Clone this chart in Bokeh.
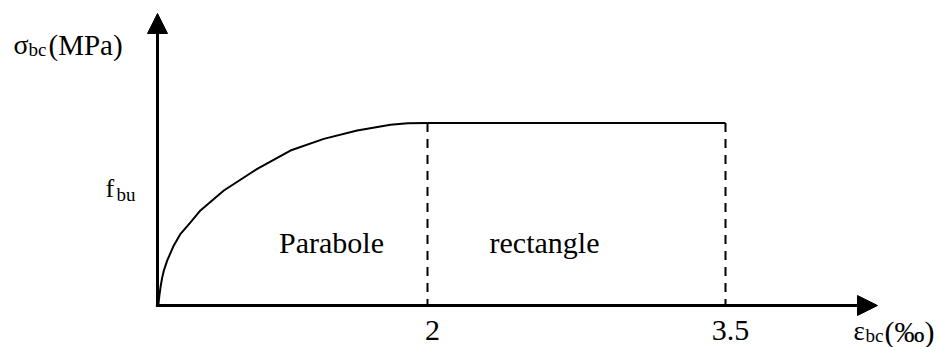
from bokeh.plotting import figure
from bokeh.models import Range1d, Label, Arrow, NormalHead, ColumnDataSource
from bokeh.embed import file_html
from bokeh.resources import INLINE

# ---------------- data (strain in per mille, stress relative to f_bu) -------------
eps_ticks = [2.0, 3.5]
eps_tick_labels = ["2", "3.5"]

parabola_eps = [0.645, 0.650, 0.656, 0.664, 0.673, 0.690, 0.723, 0.757, 0.807,
                0.857, 0.975, 1.143, 1.310, 1.478, 1.646, 1.814, 1.900, 2.0]
parabola_sig = [0.0, 0.050, 0.100, 0.150, 0.192, 0.247, 0.329, 0.393, 0.456,
                0.521, 0.630, 0.749, 0.849, 0.913, 0.959, 0.990, 0.998, 1.0]

plateau_eps = [2.0, 3.5]
plateau_sig = [1.0, 1.0]

region_names = ["Parabole", "rectangle"]

y_axis_title = ["σ", "bc", "(MPa)"]
x_axis_title = ["ε", "bc", "(‰)"]
fbu_label = ["f", "bu"]

# ---------------- layout constants ----------------
EPS0 = 0.641          # axis corner
EPS_END = 4.265       # tip of x arrow
SIG_END = 1.600       # tip of y arrow
FONT = "Liberation Serif"
TXT_UP = 10           # baseline correction for svg text, px

p = figure(width=940, height=347, output_backend="svg", toolbar_location=None,
           x_range=Range1d(-0.1493, 4.5822), y_range=Range1d(-0.2301, 1.6712),
           x_axis_type=None, y_axis_type=None,
           min_border=0, min_border_left=0, min_border_right=0,
           min_border_top=0, min_border_bottom=0,
           outline_line_color=None, background_fill_color="white",
           border_fill_color="white")
p.grid.visible = False

# axes with arrow heads
p.add_layout(Arrow(end=NormalHead(size=20, fill_color="black", line_color="black", line_width=1),
                   x_start=EPS0 - 0.008, y_start=0, x_end=EPS_END, y_end=0,
                   line_width=3, line_color="black"))
p.add_layout(Arrow(end=NormalHead(size=20, fill_color="black", line_color="black", line_width=1),
                   x_start=EPS0, y_start=-0.008, x_end=EPS0, y_end=SIG_END,
                   line_width=3, line_color="black"))

# parabola
p.line(parabola_eps, parabola_sig, line_width=2, line_color="black")
# rectangle plateau
p.line(plateau_eps, plateau_sig, line_width=2, line_color="black")

# dashed verticals at the ticks
for e, s in zip(plateau_eps, plateau_sig):
    p.line([e, e], [s, 0], line_width=2, line_color="black", line_dash="9 7")

# tick labels
src = ColumnDataSource(dict(x=eps_ticks, y=[0, 0], t=eps_tick_labels))
p.text(x="x", y="y", text="t", source=src, text_font={"value": FONT},
       text_font_size="30px", text_align="center", text_baseline="alphabetic",
       x_offset=5, y_offset=35 - TXT_UP, text_color="black")

def lab(text, x, y, size, xo=0, yo=0, align="left"):
    p.add_layout(Label(x=x, y=y, text=text, text_font=FONT, text_font_size=size,
                       x_offset=xo, y_offset=yo + TXT_UP, text_align=align,
                       text_baseline="alphabetic", text_color="black"))

# region names
lab(region_names[0], 1.517, 0.290, "30px", align="center")
lab(region_names[1], 2.589, 0.290, "30px", align="center")

# y axis title  σbc(MPa)
lab(y_axis_title[0], -0.084, 1.375, "28px")
lab(y_axis_title[1], -0.084, 1.375, "19px", xo=15, yo=-5)
lab(y_axis_title[2], -0.084, 1.375, "29px", xo=35)

# f_bu
lab(fbu_label[0], 0.379, 0.586, "26px")
lab(fbu_label[1], 0.379, 0.586, "19px", xo=11, yo=-6)

# x axis title  εbc(‰)
lab(x_axis_title[0], 4.144, -0.1945, "27px")
lab(x_axis_title[1], 4.144, -0.1945, "19px", xo=12, yo=-4)
lab(x_axis_title[2], 4.144, -0.1945, "30px", xo=31)

open("out.html", "w").write(file_html(p, INLINE))
